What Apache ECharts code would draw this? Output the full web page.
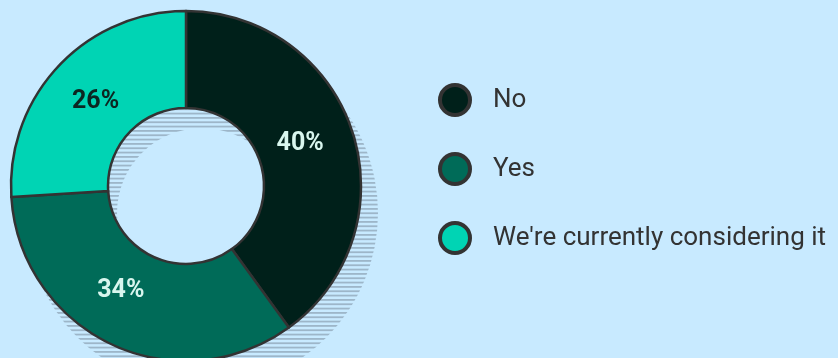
<!DOCTYPE html>
<html>
<head>
<meta charset="utf-8">
<script src="https://cdn.jsdelivr.net/npm/echarts@6/dist/echarts.min.js"></script>
<style>
  html, body { margin: 0; padding: 0; background: #c8eaff; }
  #chart { width: 838px; height: 358px; }
</style>
</head>
<body>
<div id="chart"></div>
<script>
// Survey answers and their shares (percent)
const categories = ['No', 'Yes', "We're currently considering it"];
const shares = [40, 34, 26];

const sliceColors = ['#00201a', '#006b58', '#00d4b4'];
const labelColors = ['#d8f6ee', '#d8f6ee', '#0c2621'];
// small nudges of the percentage labels inside their slices
const labelNudges = [[-9, -2], [-10, -12], [4, 4]];

// Horizontal hatch used for the offset drop shadow ring
function hatchPattern() {
  const c = document.createElement('canvas');
  c.width = 8;
  c.height = 13;
  const ctx = c.getContext('2d');
  ctx.fillStyle = '#9db6c9';
  for (let i = 0; i < 3; i++) {
    ctx.fillRect(0, i * 13 / 3, 8, 1.8);
  }
  return c;
}

const chart = echarts.init(document.getElementById('chart'), null, { renderer: 'canvas' });

const sliceData = categories.map((name, i) => ({
  name: name,
  value: shares[i],
  itemStyle: { color: sliceColors[i] },
  label: { color: labelColors[i], offset: labelNudges[i] }
}));

chart.setOption({
  backgroundColor: '#c8eaff',
  animation: false,
  legend: {
    data: categories,
    orient: 'vertical',
    left: 438,
    top: 83,
    padding: 0,
    icon: 'circle',
    itemWidth: 30,
    itemHeight: 30,
    itemGap: 35,
    itemStyle: { borderColor: '#333333', borderWidth: 4 },
    textStyle: {
      fontFamily: 'Roboto',
      fontSize: 26,
      lineHeight: 30,
      color: '#333333',
      padding: [3, 0, 0, 18]
    },
    selectedMode: false
  },
  series: [
    {
      // hatched shadow ring behind the donut
      type: 'pie',
      silent: true,
      z: 1,
      center: [202, 213],
      radius: [85, 176],
      startAngle: 90,
      label: { show: false },
      labelLine: { show: false },
      emphasis: { disabled: true },
      itemStyle: {
        color: { image: hatchPattern(), repeat: 'repeat' },
        borderWidth: 0
      },
      data: [{ name: 'shadow', value: 1 }]
    },
    {
      type: 'pie',
      z: 2,
      center: [186, 186],
      radius: [78, 175],
      startAngle: 90,
      clockwise: true,
      emphasis: { disabled: true },
      itemStyle: { borderColor: '#333333', borderWidth: 2.5 },
      label: {
        show: true,
        position: 'inside',
        formatter: '{c}%',
        fontFamily: 'Roboto',
        fontWeight: 'bold',
        fontSize: 25
      },
      labelLine: { show: false },
      data: sliceData
    }
  ]
});
</script>
</body>
</html>
